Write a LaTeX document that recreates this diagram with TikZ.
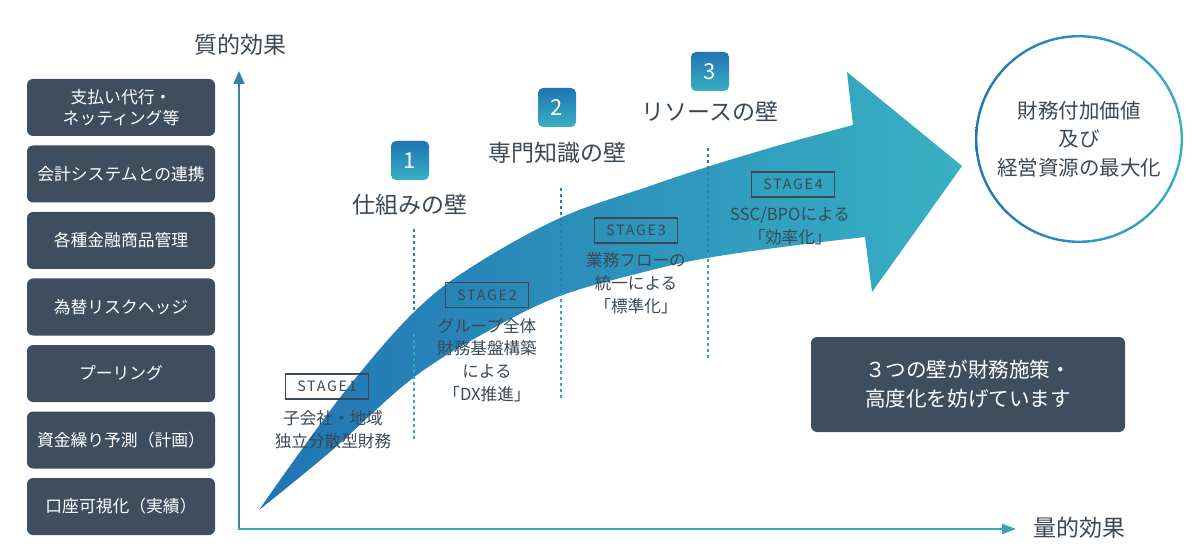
\documentclass[tikz,border=0pt]{standalone}
\usepackage{fontspec}
\setmainfont{Noto Sans CJK JP}
\newfontfamily\stagefont[LetterSpace=12]{Noto Sans CJK JP}
\usetikzlibrary{arrows.meta}
\definecolor{slate}{HTML}{3F4E5E}
\definecolor{txt}{HTML}{3B4856}
\definecolor{blueA}{HTML}{2174B3}
\definecolor{tealA}{HTML}{38B0C3}
\definecolor{dotA}{HTML}{2B7CB4}
\definecolor{dotB}{HTML}{37A8BF}
\definecolor{axisV}{HTML}{3B82A0}
\definecolor{axisH}{HTML}{3BA5B5}
\begin{document}
\begin{tikzpicture}[x=1pt,y=-1pt,
  leftbox/.style={fill=slate, rounded corners=6pt, minimum width=188pt, minimum height=57pt, text=white, font=\fontsize{16.8}{20.5}\selectfont, align=center, inner sep=0pt},
  stagebox/.style={draw=txt, line width=1.1pt, minimum width=83pt, minimum height=25pt, inner sep=0pt, text=txt, font=\stagefont\fontsize{14.3}{16}\selectfont},
  stagetext/.style={text=txt, font=\fontsize{16.6}{22.8}\selectfont, align=center, inner sep=0pt},
  wall/.style={text=txt, font=\fontsize{23}{28}\selectfont, inner sep=0pt},
  badge/.style={top color=blueA, bottom color=tealA, rounded corners=5pt, minimum width=38pt, minimum height=39pt, text=white, font=\fontsize{22}{26}\selectfont, inner sep=0pt},
  axislabel/.style={text=txt, font=\fontsize{23}{28}\selectfont, inner sep=0pt},
  dividerA/.style={draw=dotA, line width=2.7pt, dash pattern=on 2.7pt off 3.3pt},
  dividerB/.style={draw=dotB, line width=2.7pt, dash pattern=on 2.7pt off 3.3pt},
]
\useasboundingbox (0,0) rectangle (1200,556);
\fill[white] (0,0) rectangle (1200,556);

% left boxes
\node[leftbox] (l1) at (121,107.5) {支払い代行・\\ネッティング等};
\node[leftbox] (l2) at (121,174) {会計システムとの連携};
\node[leftbox] (l3) at (121,240.5) {各種金融商品管理};
\node[leftbox] (l4) at (121,307) {為替リスクヘッジ};
\node[leftbox] (l5) at (121,373.5) {プーリング};
\node[leftbox] (l6) at (121,440) {資金繰り予測（計画）};
\node[leftbox] (l7) at (121,506.5) {口座可視化（実績）};

% axes
\coordinate (origin) at (239,530);
\coordinate (xstart) at (238,529);
\coordinate (ytip) at (239,71);
\coordinate (xtip) at (1016,529);
\draw[line width=1.7pt, draw=axisV, -{Triangle[length=13pt,width=11pt,fill=axisV]}] (origin) -- (ytip);
\draw[line width=1.7pt, draw=axisH, -{Triangle[length=14pt,width=10pt,fill=axisH]}] (xstart) -- (xtip);
\node[axislabel] (ylab) at (240,45) {質的効果};
\node[axislabel] (xlab) at (1079,528) {量的効果};

% big arrow
\shade[left color=blueA, right color=tealA]
  plot[smooth, tension=0.6] coordinates {(259,510) (300,452) (350,385) (413,313) (470,268) (560,218) (650,186) (707,167) (780,145) (853,125)}
  -- (847,72) -- (962,166) -- (872,292) -- (865,237)
  -- plot[smooth, tension=0.6] coordinates {(865,237) (790,246) (707,258) (640,273) (560,296) (490,330) (413,378) (330,452) (259,510)}
  -- cycle;

% dividers
\coordinate (d1t) at (414,229);
\coordinate (d1m) at (414,334);
\coordinate (d1b) at (414,440);
\coordinate (d2t) at (561,188);
\coordinate (d2m) at (561,293);
\coordinate (d2b) at (561,398);
\coordinate (d3t) at (708,148);
\coordinate (d3m) at (708,253);
\coordinate (d3b) at (708,358);
\draw[dividerA] (d1t) -- (d1m);
\draw[dividerB] (d1m) -- (d1b);
\draw[dividerA] (d2t) -- (d2m);
\draw[dividerB] (d2m) -- (d2b);
\draw[dividerA] (d3t) -- (d3m);
\draw[dividerB] (d3m) -- (d3b);

% walls
\node[badge] (b1) at (410,160.5) {1};
\node[wall] (w1) at (410,205) {仕組みの壁};
\node[badge] (b2) at (557,107.5) {2};
\node[wall] (w2) at (557,153) {専門知識の壁};
\node[badge] (b3) at (710,71.5) {3};
\node[wall] (w3) at (710,111) {リソースの壁};

% stages
\node[stagebox] (s1) at (327,386.5) {STAGE1};
\node[stagetext] (t1) at (333,430) {子会社・地域\\独立分散型財務};
\node[stagebox] (s2) at (487,295) {STAGE2};
\node[stagetext] (t2) at (487,360) {グループ全体\\財務基盤構築\\による\\「DX推進」};
\node[stagebox] (s3) at (636,230.5) {STAGE3};
\node[stagetext] (t3) at (636,283.5) {業務フローの\\統一による\\「標準化」};
\node[stagebox] (s4) at (793,184.5) {STAGE4};
\node[stagetext] (t4) at (790,226) {SSC/BPOによる\\「効率化」};

% goal circle
\node[circle, minimum size=208pt, inner sep=0pt, text=txt, font=\fontsize{20.5}{28.5}\selectfont, align=center] (goal) at (1079,139) {財務付加価値\\及び\\経営資源の最大化};
\shade[left color=blueA, right color=tealA, even odd rule] (goal.center) circle[radius=104pt] (goal.center) circle[radius=101.6pt];

% note box
\node[fill=slate, rounded corners=6pt, minimum width=314pt, minimum height=95pt, inner sep=0pt, text=white, align=center, font=\fontsize{20.6}{29}\selectfont] (note) at (968,384.5) {３つの壁が財務施策・\\高度化を妨げています};
\end{tikzpicture}
\end{document}
